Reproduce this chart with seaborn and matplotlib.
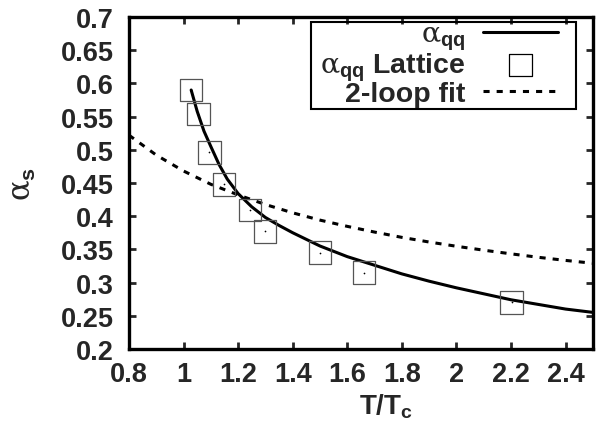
import matplotlib
matplotlib.use("Agg")
import matplotlib.pyplot as plt
from matplotlib.patches import Rectangle
import seaborn as sns
import pandas as pd

# ---- data ----
lat_T = [1.028, 1.054, 1.095, 1.149, 1.243, 1.298, 1.500, 1.662, 2.202]
lat_a = [0.590, 0.554, 0.496, 0.448, 0.409, 0.377, 0.345, 0.315, 0.270]

fit_T = [1.028, 1.05, 1.075, 1.10, 1.13, 1.16, 1.20, 1.25, 1.30, 1.35, 1.40,
         1.50, 1.60, 1.70, 1.80, 1.90, 2.00, 2.10, 2.20, 2.30, 2.40, 2.50]
fit_a = [0.590, 0.558, 0.528, 0.505, 0.478, 0.456, 0.434, 0.414, 0.398, 0.386, 0.375,
         0.355, 0.339, 0.326, 0.313, 0.302, 0.292, 0.283, 0.274, 0.267, 0.260, 0.255]

loop_T = [0.8, 0.9, 1.0, 1.1, 1.2, 1.3, 1.4, 1.5, 1.6, 1.7, 1.8, 1.9, 2.0,
          2.1, 2.2, 2.3, 2.4, 2.5]
loop_a = [0.522, 0.492, 0.468, 0.448, 0.432, 0.4175, 0.405, 0.394, 0.3846, 0.376,
          0.368, 0.361, 0.3546, 0.3487, 0.3432, 0.338, 0.3333, 0.329]

x_ticks = [0.8, 1.0, 1.2, 1.4, 1.6, 1.8, 2.0, 2.2, 2.4]
x_tick_labels = ["0.8", "1", "1.2", "1.4", "1.6", "1.8", "2", "2.2", "2.4"]
y_ticks = [0.2, 0.25, 0.3, 0.35, 0.4, 0.45, 0.5, 0.55, 0.6, 0.65, 0.7]
y_tick_labels = ["0.2", "0.25", "0.3", "0.35", "0.4", "0.45", "0.5", "0.55", "0.6", "0.65", "0.7"]

sns.set_style("ticks")
plt.rcParams["font.family"] = ["Liberation Sans", "DejaVu Sans"]
plt.rcParams["font.weight"] = "bold"
plt.rcParams["mathtext.fontset"] = "custom"
plt.rcParams["mathtext.rm"] = "DejaVu Serif:normal"
plt.rcParams["mathtext.it"] = "Liberation Sans:bold"
plt.rcParams["mathtext.bf"] = "Liberation Sans:bold"

df_fit = pd.DataFrame({"T": fit_T, "a": fit_a})
df_loop = pd.DataFrame({"T": loop_T, "a": loop_a})
df_lat = pd.DataFrame({"T": lat_T, "a": lat_a})

fig = plt.figure(figsize=(5.97, 4.39), dpi=100)
ax = fig.add_axes([0.216, 0.203, 0.777, 0.756])

sns.lineplot(data=df_fit, x="T", y="a", ax=ax, color="black", lw=2.2,
             label=r"$\mathrm{\alpha}_{\mathbf{qq}}$", sort=False)
sns.scatterplot(data=df_lat, x="T", y="a", ax=ax, marker="s", s=265,
                facecolor="none", edgecolor="#555555", linewidth=0.9,
                label=r"$\mathrm{\alpha}_{\mathbf{qq}}$ Lattice", zorder=3)
sns.scatterplot(data=df_lat, x="T", y="a", ax=ax, marker="o", s=1.5,
                color="black", linewidth=0, legend=False, zorder=4)
sns.lineplot(data=df_loop, x="T", y="a", ax=ax, color="black", lw=2.2,
             dashes=(2, 2.3), label="2-loop fit", sort=False)

ax.set_xlim(0.8, 2.5)
ax.set_ylim(0.2, 0.7)
ax.set_xticks(x_ticks)
ax.set_xticklabels(x_tick_labels)
ax.set_yticks(y_ticks)
ax.set_yticklabels(y_tick_labels)
ax.tick_params(direction="in", length=5, width=2, top=True, right=True,
               labelsize=19.5)
ax.tick_params(axis="y", pad=11)
ax.tick_params(axis="x", pad=9)
for sp in ax.spines.values():
    sp.set_linewidth(2.4)
    sp.set_color("black")
    sp.set_visible(True)

ax.set_xlabel(r"T/T$_{\mathbf{c}}$", fontsize=20, fontweight="bold")
ax.xaxis.set_label_coords(0.555, -0.128)
ax.set_ylabel(r"$\mathrm{\alpha}_{\mathbf{s}}$", fontsize=22)
ax.yaxis.set_label_coords(-0.195, 0.5)

leg = ax.legend(loc="upper right", bbox_to_anchor=(0.925, 0.985), borderaxespad=0,
                markerfirst=False, fontsize=20.5, handlelength=2.63, handletextpad=0.63,
                labelspacing=-0.06, borderpad=0.0, frameon=False)
for t in leg.get_texts():
    t.set_fontweight("bold")
for h in leg.legend_handles:
    try:
        h.set_edgecolor("black")
    except Exception:
        pass

ax.add_patch(Rectangle((0.392, 0.723), 0.963 - 0.392, 0.985 - 0.723,
                       transform=ax.transAxes, fill=False, edgecolor="black",
                       linewidth=1.5, zorder=5, clip_on=False))

fig.savefig("out.png", dpi=100)
